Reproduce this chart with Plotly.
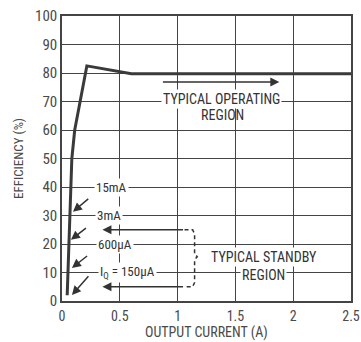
import plotly.graph_objects as go

# Efficiency curve
current_a = [0.045, 0.085, 0.11, 0.215, 0.6, 2.5]
efficiency_pct = [2, 50, 60, 82.5, 79.7, 79.7]

x_ticks = [0, 0.5, 1, 1.5, 2, 2.5]
x_tick_text = ["0", "0.5", "1", "1.5", "2", "2.5"]
y_ticks = [0, 10, 20, 30, 40, 50, 60, 70, 80, 90, 100]

# Quiescent-current labels: text, label position, arrow tail, arrow head
iq_labels = ["15mA", "3mA", "600μA", "I<sub>Q</sub> = 150μA"]
iq_label_x = [0.43, 0.41, 0.46, 0.57]
iq_label_y = [40, 30, 20, 10]
iq_tail_x = [0.24, 0.22, 0.23, 0.24]
iq_tail_y = [36.3, 26, 16.2, 9.2]
iq_head_x = [0.095, 0.077, 0.086, 0.086]
iq_head_y = [31.3, 21.5, 11.6, 2.1]

FONT = "Liberation Sans Narrow, Roboto Condensed, Arial Narrow, Arial, sans-serif"
INK = "#333333"
GRID = "#444444"
LABEL = "#4a4a4a"

fig = go.Figure()
fig.add_trace(go.Scatter(
    x=current_a, y=efficiency_pct, mode="lines",
    line=dict(color="#3a3a3a", width=3),
    hoverinfo="skip", showlegend=False,
))

# Standby bracket (dashed)
bracket_x = [1.06, 1.13, 1.147, 1.147, 1.17, 1.147, 1.147, 1.13, 1.06]
bracket_y = [25, 25, 23.5, 16.5, 15.5, 14.5, 6.5, 5, 5]
fig.add_trace(go.Scatter(
    x=bracket_x, y=bracket_y, mode="lines",
    line=dict(color=INK, width=1.5, dash="4px,3px"),
    hoverinfo="skip", showlegend=False,
))

ann = []
for t, lx, ly in zip(iq_labels, iq_label_x, iq_label_y):
    ann.append(dict(x=lx, y=ly, text=t, showarrow=False, bgcolor="white",
                    borderpad=1, font=dict(family=FONT, size=13, color=INK)))
for tx, ty, hx, hy in zip(iq_tail_x, iq_tail_y, iq_head_x, iq_head_y):
    ann.append(dict(x=hx, y=hy, ax=tx, ay=ty, axref="x", ayref="y", text="",
                    showarrow=True, arrowhead=2, arrowsize=1.2, arrowwidth=1.5,
                    arrowcolor=INK))

# Standby region arrows
for yy in [25, 5]:
    ann.append(dict(x=0.35, y=yy, ax=1.06, ay=yy, axref="x", ayref="y", text="",
                    showarrow=True, arrowhead=2, arrowsize=1.2, arrowwidth=1.5,
                    arrowcolor=INK))

# Operating region arrow
ann.append(dict(x=1.88, y=76.8, ax=0.86, ay=76.8, axref="x", ayref="y", text="",
                showarrow=True, arrowhead=2, arrowsize=1.2, arrowwidth=1.5,
                arrowcolor=INK))

ann += [
    dict(x=1.38, y=71, text="TYPICAL OPERATING", showarrow=False, bgcolor="white",
         borderpad=1, font=dict(family=FONT, size=14, color=INK)),
    dict(x=1.385, y=65.3, text="REGION", showarrow=False,
         font=dict(family=FONT, size=14, color=INK)),
    dict(x=1.75, y=15.5, text="TYPICAL STANDBY", showarrow=False, bgcolor="white",
         borderpad=1, font=dict(family=FONT, size=14, color=INK)),
    dict(x=1.74, y=9.2, text="REGION", showarrow=False, bgcolor="white",
         borderpad=1, font=dict(family=FONT, size=14, color=INK)),
    # x-axis title
    dict(x=0.5, y=-0.109, xref="paper", yref="paper", yanchor="middle",
         text="OUTPUT CURRENT (A)", showarrow=False, borderpad=0,
         font=dict(family=FONT, size=14, color=LABEL)),
]

fig.update_layout(
    width=361, height=342,
    margin=dict(l=62, r=10, t=16, b=41),
    paper_bgcolor="white", plot_bgcolor="white",
    annotations=ann,
    xaxis=dict(
        range=[0, 2.5], tickvals=x_ticks, ticktext=x_tick_text,
        showgrid=True, gridcolor=GRID, gridwidth=1, zeroline=False,
        showline=True, linecolor=GRID, linewidth=1.5, mirror=True, ticks="",
        ticklabelstandoff=1, automargin=False,
        tickfont=dict(family=FONT, size=14, color=LABEL),
    ),
    yaxis=dict(
        range=[0, 100], tickvals=y_ticks, automargin=False,
        showgrid=True, gridcolor=GRID, gridwidth=1, zeroline=False,
        showline=True, linecolor=GRID, linewidth=1.5, mirror=True, ticks="",
        tickfont=dict(family=FONT, size=15, color=LABEL),
        title=dict(text="EFFICIENCY (%)", standoff=8,
                   font=dict(family=FONT, size=13, color=LABEL)),
    ),
)

fig.write_html("out.html")
